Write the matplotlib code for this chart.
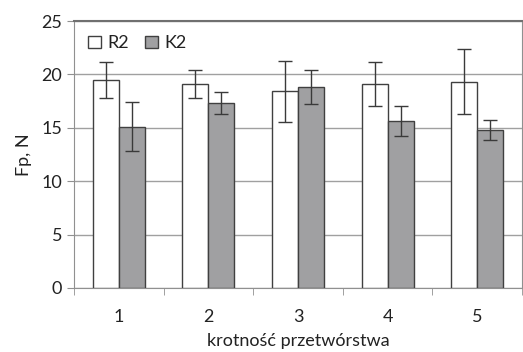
import numpy as np
import matplotlib.pyplot as plt

plt.rcParams['font.family'] = ['Lato', 'DejaVu Sans']

# Data
categories = ['1', '2', '3', '4', '5']
r2 = [19.5, 19.1, 18.4, 19.1, 19.3]
r2_err = [1.7, 1.35, 2.85, 2.05, 3.05]
k2 = [15.1, 17.3, 18.8, 15.6, 14.8]
k2_err = [2.3, 1.05, 1.6, 1.4, 0.9]

fig = plt.figure(figsize=(5.23, 3.52), dpi=100)
ax = fig.add_axes([74/523, 1 - 288/352, 448/523, 267/352])

x = np.arange(len(categories))
w = 0.29
err_kw = dict(ecolor='#3a3a3a', elinewidth=1.0, capsize=5, capthick=1.0)
ax.bar(x - w/2, r2, w, yerr=r2_err, color='white', edgecolor='#404040',
       linewidth=1.0, label='R2', zorder=3, error_kw=err_kw)
ax.bar(x + w/2, k2, w, yerr=k2_err, color='#a0a0a2', edgecolor='#404040',
       linewidth=1.0, label='K2', zorder=3, error_kw=err_kw)

# Axes, ticks and grid
ax.set_xlim(-0.5, len(categories) - 0.5)
ax.set_ylim(0, 25)
ax.set_yticks([0, 5, 10, 15, 20, 25])
ax.set_xticks(x)
ax.set_xticklabels(categories)
ax.set_xticks(np.arange(len(categories) + 1) - 0.5, minor=True)
ax.tick_params(axis='x', which='major', length=0, pad=15, labelsize=13, labelcolor='#222222')
ax.tick_params(axis='x', which='minor', length=5, color='#909090', direction='out')
ax.tick_params(axis='y', length=5, color='#909090', labelsize=13, labelcolor='#222222')
ax.grid(axis='y', color='#a0a0a0', linewidth=1.0, zorder=0)

for side in ['left', 'bottom', 'right']:
    ax.spines[side].set_color('#909090')
ax.spines['top'].set_color('#707070')
ax.spines['top'].set_linewidth(1.5)

ax.set_xlabel('krotność przetwórstwa', fontsize=13, color='#222222', labelpad=6)
ax.set_ylabel('Fp, N', fontsize=13, color='#222222', labelpad=7)

ax.legend(loc='upper left', ncol=2, frameon=False, fontsize=13,
          handlelength=0.7, handleheight=0.7, handletextpad=0.35,
          columnspacing=0.9, borderaxespad=0.4, labelcolor='#222222')

plt.savefig('out.png', dpi=100)
